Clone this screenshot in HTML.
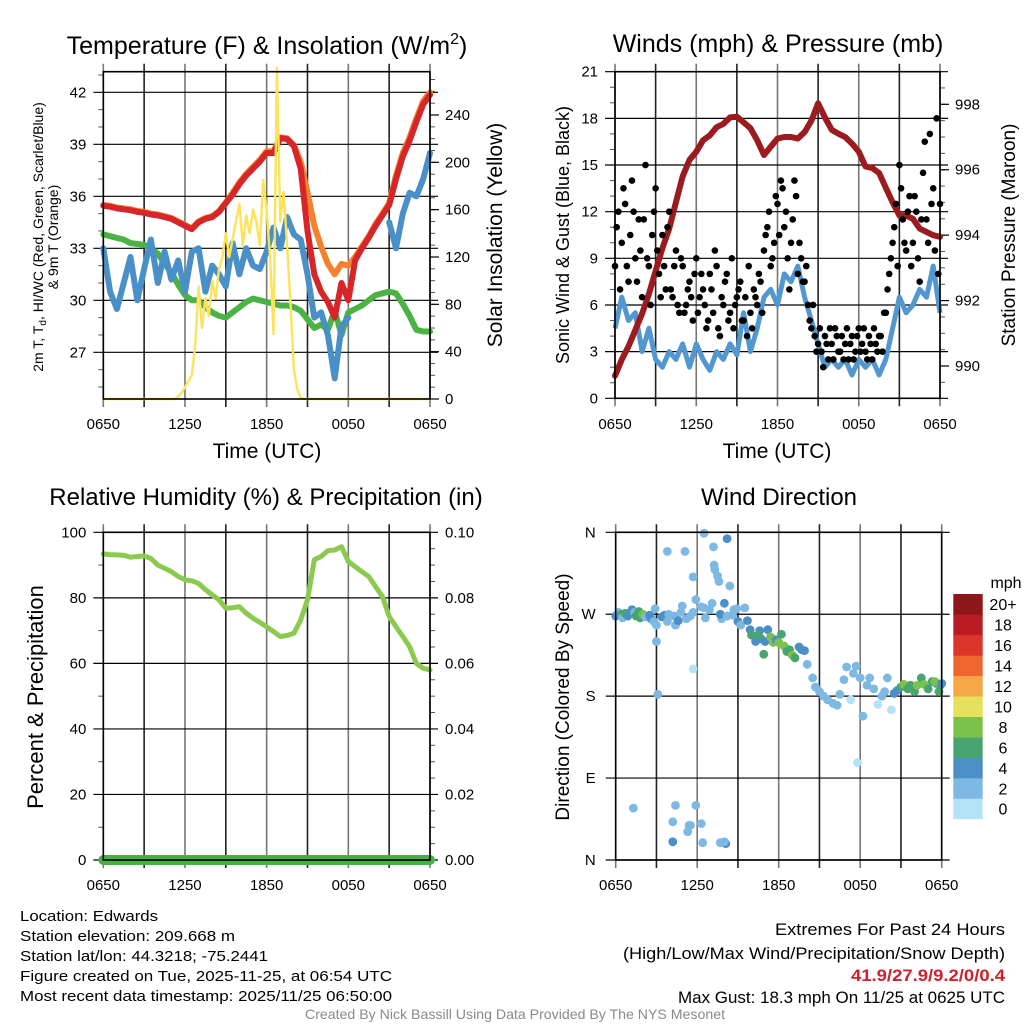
<!DOCTYPE html>
<html><head><meta charset="utf-8"><title>Station Meteogram - Edwards</title>
<style>
html,body{margin:0;padding:0;background:#fff;}
svg{display:block;font-family:"Liberation Sans",Arial,sans-serif;}
</style></head>
<body>
<svg id="fig" xmlns="http://www.w3.org/2000/svg" width="1024" height="1024" viewBox="0 0 1024 1024">
<rect x="0" y="0" width="1024" height="1024" fill="#fff"/>
<!-- titles -->
<text x="267" y="54" font-size="25" text-anchor="middle">Temperature (F) &amp; Insolation (W/m<tspan font-size="16" dy="-10">2</tspan><tspan dy="10">)</tspan></text>
<text x="778" y="52" font-size="25" text-anchor="middle">Winds (mph) &amp; Pressure (mb)</text>
<text x="266" y="505" font-size="24" text-anchor="middle">Relative Humidity (%) &amp; Precipitation (in)</text>
<text x="779" y="505" font-size="24" text-anchor="middle">Wind Direction</text>
<!-- axis titles -->
<text transform="translate(43,237) rotate(-90)" font-size="14" text-anchor="middle">2m T, T<tspan font-size="10" dy="3">d</tspan><tspan dy="-3">, HI/WC (Red, Green, Scarlet/Blue)</tspan></text>
<text transform="translate(58,237) rotate(-90)" font-size="14" text-anchor="middle">&amp; 9m T (Orange)</text>
<text transform="translate(502,235) rotate(-90)" font-size="21" text-anchor="middle">Solar Insolation (Yellow)</text>
<text x="267" y="458" font-size="21" text-anchor="middle">Time (UTC)</text>
<text transform="translate(569,235) rotate(-90)" font-size="18" text-anchor="middle">Sonic Wind &amp; Gust (Blue, Black)</text>
<text transform="translate(1015,235) rotate(-90)" font-size="19" text-anchor="middle">Station Pressure (Maroon)</text>
<text x="777" y="458" font-size="21" text-anchor="middle">Time (UTC)</text>
<text transform="translate(43,697) rotate(-90)" font-size="22" text-anchor="middle">Percent &amp; Precipitation</text>
<text transform="translate(569,697) rotate(-90)" font-size="19" text-anchor="middle">Direction (Colored By Speed)</text>
<!-- info text -->
<g font-size="15" fill="#000">
<text x="20" y="921" textLength="138" lengthAdjust="spacingAndGlyphs">Location: Edwards</text>
<text x="20" y="941" textLength="215" lengthAdjust="spacingAndGlyphs">Station elevation: 209.668 m</text>
<text x="20" y="961" textLength="248" lengthAdjust="spacingAndGlyphs">Station lat/lon: 44.3218; -75.2441</text>
<text x="20" y="981" textLength="372" lengthAdjust="spacingAndGlyphs">Figure created on Tue, 2025-11-25, at 06:54 UTC</text>
<text x="20" y="1001" textLength="372" lengthAdjust="spacingAndGlyphs">Most recent data timestamp: 2025/11/25 06:50:00</text>
</g>
<g font-size="17" text-anchor="end">
<text x="1005" y="935" textLength="230" lengthAdjust="spacingAndGlyphs">Extremes For Past 24 Hours</text>
<text x="1005" y="959" textLength="382" lengthAdjust="spacingAndGlyphs">(High/Low/Max Wind/Precipitation/Snow Depth)</text>
<text x="1005" y="981" fill="#d0202a" font-weight="bold" textLength="154" lengthAdjust="spacingAndGlyphs">41.9/27.9/9.2/0/0.4</text>
<text x="1005" y="1003" textLength="327" lengthAdjust="spacingAndGlyphs">Max Gust: 18.3 mph On 11/25 at 0625 UTC</text>
</g>
<text x="515" y="1019" font-size="14" fill="#8a8a8a" text-anchor="middle" textLength="420" lengthAdjust="spacingAndGlyphs">Created By Nick Bassill Using Data Provided By The NYS Mesonet</text>
</svg>
<script>
// ---- data (half-hourly unless noted, hours since 0650 UTC) ----
const xTickLabels = ["0650","1250","1850","0050","0650"];
const tempRed = [35.45,35.4,35.3,35.25,35.2,35.1,35.05,34.95,34.9,34.8,34.7,34.5,34.3,34.1,34.5,34.7,34.8,35.1,35.6,36.1,36.7,37.2,37.6,38.0,38.5,38.5,39.35,39.3,38.9,37.6,34.0,31.5,30.5,29.9,29.0,31.0,30.0,32.3,33.0,33.6,34.3,34.9,35.5,37.0,38.3,39.2,40.3,41.3,41.85];
const tempOrange = [35.5,35.45,35.35,35.3,35.25,35.15,35.1,35.0,34.95,34.85,34.75,34.55,34.35,34.15,34.55,34.75,34.85,35.15,35.65,36.2,36.8,37.3,37.7,38.1,38.6,38.6,39.4,39.35,38.95,38.0,36.2,34.3,33.1,32.1,31.5,32.1,32.0,32.5,33.1,33.7,34.4,35.0,35.6,37.2,38.5,39.4,40.5,41.5,42.0];
const dewGreen = [33.8,33.7,33.6,33.5,33.3,33.25,33.2,33.0,32.7,32.1,31.6,30.9,30.3,30.0,30.0,29.6,29.3,29.1,29.0,29.3,29.6,29.9,30.1,30.0,29.9,29.8,29.7,29.7,29.6,29.4,28.9,28.4,28.6,28.3,29.4,28.0,29.3,29.5,29.7,30.0,30.3,30.4,30.5,30.4,29.8,29.1,28.3,28.2,28.2];
const windChillBlue = [33.0,30.5,29.5,31.0,32.5,30.0,31.8,33.5,31.0,32.8,31.2,32.3,30.5,32.8,33.0,30.5,32.0,31.5,30.8,33.3,31.5,33.0,32.0,31.8,32.8,34.2,33.0,34.8,33.8,33.5,31.5,29.0,29.3,28.0,25.5,28.5,29.0,null,null,null,null,null,34.5,33.0,35.0,36.2,36.0,37.0,38.5];
// quarter-hourly insolation
const insolation = [0,0,0,0,0,0,0,0,0,0,0,0,0,0,0,0,0,0,0,0,0,0,2,5,10,15,20,45,95,60,85,70,100,85,110,120,140,120,135,150,165,130,155,140,160,150,130,185,160,120,55,280,150,175,130,80,25,8,1,0,0,0,0,0,0,0,0,0,0,0,0,0,0,0,0,0,0,0,0,0,0,0,0,0,0,0,0,0,0,0,0,0,0,0,0,0,0];
const tempTicks = [27,30,33,36,39,42];
const insolTicks = [0,40,80,120,160,200,240];

const pressure = [989.7,990.2,990.6,991.1,991.6,992.2,992.9,993.6,994.2,995.0,995.8,996.3,996.55,996.9,997.05,997.3,997.4,997.6,997.62,997.45,997.27,996.9,996.45,996.7,996.95,997.0,997.0,996.95,997.15,997.5,998.03,997.6,997.22,997.1,997.0,996.8,996.55,996.1,996.05,995.9,995.45,995.0,994.6,994.6,994.5,994.2,994.1,994.0,993.95];
const sonicWind = [4.5,6.5,5.0,5.5,3.0,4.5,2.5,2.0,3.0,2.5,3.5,2.0,3.5,2.5,1.8,3.0,2.5,3.5,2.8,5.5,3.0,4.5,6.5,7.0,6.0,8.0,7.5,8.5,6.5,5.0,3.5,2.0,2.5,2.0,2.5,1.5,2.5,2.0,2.5,1.5,2.5,4.5,6.5,5.5,6.0,7.0,6.5,8.5,5.5];
// quarter-hourly gusts (t = k*0.25)
const gustA = [8.5,12.0,10.0,12.5,7.5,14.0,9.0,11.5,6.5,15.0,8.5,10.5,13.5,8.0,10.5,7.0,12.0,6.5,9.5,5.5,8.5,6.0,7.5,5.0,9.0,6.5,7.0,4.5,8.0,5.5,8.5,4.0,6.0,8.0,5.5,4.5,6.5,7.5,5.0,4.0,5.5,7.0,6.0,7.5,9.5,11.0,8.5,10.0,12.5,14.0,11.0,9.0,10.0,14.0,8.0,9.0,7.5,6.0,4.5,4.0,3.5,3.0,4.0,2.5,3.5,4.5,3.0,4.0,3.5,2.5,4.0,3.0,4.5,3.5,3.0,4.0,2.5,3.5,4.0,3.0,5.5,8.0,10.0,12.5,15.0,11.5,9.5,13.0,10.0,12.0,7.5,14.5,11.5,17.0,13.5,18.0,12.5];
// quarter-hourly gusts offset (t = 0.125 + k*0.25)
const gustB = [11.0,7.0,13.5,8.5,10.5,12.0,7.5,9.5,11.5,9.0,6.0,12.0,9.5,6.5,8.5,11.0,7.0,8.5,6.0,9.0,5.5,7.0,6.5,8.0,5.5,8.0,6.0,5.0,7.0,9.5,4.5,6.5,7.5,5.0,9.0,6.0,7.0,5.0,6.5,8.5,4.5,6.5,8.0,5.5,10.5,12.0,9.0,13.0,10.5,13.5,12.0,7.0,11.5,13.0,10.0,7.5,8.5,5.0,6.0,3.0,4.5,2.0,3.5,4.5,2.5,4.0,3.0,2.5,4.5,3.5,2.5,4.0,3.0,4.5,2.5,3.5,4.5,3.0,4.0,5.5,7.0,9.0,11.0,8.5,13.5,10.0,12.0,8.5,13.0,9.0,11.5,16.5,10.0,12.5,9.5,8.0];
const windTicks = [0,3,6,9,12,15,18,21];
const pressTicks = [990,992,994,996,998];

const relHumidity = [93.4,93.2,93.1,93.0,92.4,92.6,92.8,92.0,90.0,89.0,88.0,86.5,85.5,85.2,84.4,82.5,80.9,79.4,76.8,77.0,77.3,75.3,73.8,72.5,71.2,69.7,68.2,68.5,69.2,73.2,79.4,91.6,92.6,94.4,94.6,95.6,91.1,89.5,88.0,86.5,83.4,80.4,74.3,71.2,68.2,65.1,60.0,58.5,58.0];
const precip = [0,0,0,0,0,0,0,0,0,0,0,0,0,0,0,0,0,0,0,0,0,0,0,0,0,0,0,0,0,0,0,0,0,0,0,0,0,0,0,0,0,0,0,0,0,0,0,0,0];
const rhTicks = [0,20,40,60,80,100];
const precipTicks = ["0.00","0.02","0.04","0.06","0.08","0.10"];

// wind direction obs
const dirTimes = [0.0,0.2,0.4,0.5,0.7,0.9,1.2,1.4,1.5,1.7,1.8,2.0,2.2,2.5,2.6,2.8,3.0,3.0,3.1,2.9,3.4,3.6,3.8,3.9,4.3,4.4,4.6,4.8,4.9,3.8,5.1,5.2,5.5,5.7,5.7,5.7,5.9,6.3,6.5,6.6,6.9,6.5,7.1,7.2,7.25,7.3,7.5,7.6,7.8,7.7,8.0,8.2,8.4,8.2,8.6,8.7,8.9,9.0,9.2,9.5,9.7,9.9,10.0,10.3,10.6,10.7,10.5,10.9,11.0,11.2,11.4,11.6,11.8,12.0,12.2,12.4,12.6,12.8,13.0,13.2,13.5,13.7,13.9,14.1,14.5,14.7,15.0,15.3,15.6,16.0,16.3,16.5,16.8,17.0,17.3,17.5,17.7,18.0,18.2,18.5,18.7,19.0,19.3,19.6,19.8,20.0,20.3,20.5,20.7,21.0,21.2,21.5,21.7,22.0,22.2,22.5,22.7,23.0,23.3,23.6,23.9,23.5,23.8,24.0,1.3,4.4,5.9,4.2,5.5,4.2,5.3,5.4,6.3,6.4,8.1,8.0,7.7,17.8];
const dirDegrees = [268,272,270,266,271,268,275,272,268,273,266,270,267,269,265,262,258,240,182,276,267,269,262,270,268,258,263,272,279,339,339,265,268,311,210,272,286,278,277,266,275,359,282,344,324,319,312,306,265,270,282,268,301,353,269,275,276,262,258,277,263,253,247,240,252,243,247,226,240,253,245,239,242,239,248,235,229,231,225,222,234,231,230,215,200,190,185,180,176,172,170,182,198,212,176,205,213,200,158,192,200,188,171,180,185,200,165,183,186,190,193,188,192,185,192,200,193,188,196,194,192,196,185,194,57,60,60,42,38,20,31,38,40,19,18,20,19,107];
const dirSpeeds = [4,3,7,3,6,5,4,3,7,6,6,8,3,4,5,3,2,2,2,2,4,4,3,2,3,2,4,2,2,2,2,2,2,2,0,3,2,2,2,2,2,2,2,2,2,2,2,2,2,4,4,2,2,4,3,2,2,4,3,3,4,4,6,4,4,5,6,6,4,5,8,8,5,8,6,8,7,6,8,6,4,4,4,2,2,2,2,2,2,2,2,2,2,2,0,2,2,2,2,2,2,2,0,2,2,2,0,4,4,6,8,6,6,6,8,6,8,6,6,4,6,8,6,4,2,2,2,2,2,4,2,2,2,2,4,2,2,0];
const speedColors = ["#b4e2f7","#7db9e3","#4a8fc6","#48a56f","#7bc24b","#e6e15c","#f6a846","#ef6631","#dc3529","#ba1c24","#8e1619"];
const speedLabels = ["0","2","4","6","8","10","12","14","16","18","20+"];
const dirLabels = ["N","E","S","W","N"];
const dirTicks = [0,90,180,270,360];

// ---- drawing ----
const NS = "http://www.w3.org/2000/svg";
const svg = document.getElementById("fig");
function mk(tag, parent){ const e = document.createElementNS(NS, tag); parent.appendChild(e); return e; }
function attrs(e, o){ for (const k in o) e.setAttribute(k, o[k]); return e; }
function linePath(vals, step, xf, yf){
  let d = "", pen = false;
  vals.forEach((v, i) => {
    if (v === null) { pen = false; return; }
    d += (pen ? "L" : "M") + xf(i*step).toFixed(1) + " " + yf(v).toFixed(1);
    pen = true;
  });
  return d;
}
function mkScale(d0, d1, r0, r1){ return v => r0 + (v - d0) * (r1 - r0) / (d1 - d0); }

function panelFrame(P, name){
  const g = mk("g", svg);
  
  
  for (let h = 0; h <= 24; h += 3) {
    const x = P.x(h);
    const l = mk("line", g);
    
    
    attrs(l, {x1:x, x2:x, y1:P.T-8, y2:P.B+8, stroke:(h%6===3 ? "#222" : "#777"), "stroke-width":1.6});
  }
  return g;
}
function hGrid(P, g, ys){
  ys.forEach(y => {
    const l = mk("line", g);
    
    
    attrs(l, {x1:P.L-10, x2:P.R+8, y1:y, y2:y, stroke:"#000", "stroke-width":1.2});
  });
}
function minorTicks(P, g, ys, side){
  ys.forEach(y => {
    const l = mk("line", g);
    
    
    const x0 = side === "left" ? P.L - 5 : P.R;
    attrs(l, {x1:x0, x2:x0+5, y1:y, y2:y, stroke:"#555", "stroke-width":1});
  });
}
function border(P, name){
  const r = mk("rect", svg);
  
  
  attrs(r, {x:P.L, y:P.T, width:P.R-P.L, height:P.B-P.T, fill:"none", stroke:"#000", "stroke-width":1.6});
}
function tickLabel(x, y, txt, anchor, name){
  const t = mk("text", svg);
  
  
  attrs(t, {x:x, y:y, "font-size":15, "text-anchor":anchor});
  t.textContent = txt;
}
function xLabels(P, y){
  xTickLabels.forEach((s, i) => tickLabel(P.x(i*6), y, s, "middle", "x-tick-label"));
}
function mkPanel(L,R,T,B){ return {L,R,T,B,x:mkScale(0,24,L,R)}; }

// ===== Panel 1 =====
const P1 = mkPanel(103.3, 430, 71.7, 399);
const yT = mkScale(27, 42, 352.3, 92.3);
const yI = mkScale(0, 240, 399, 115);
const g1 = panelFrame(P1, "temperature");
hGrid(P1, g1, tempTicks.map(yT));
const minT = []; for (let v = 25; v <= 43; v++) if (!tempTicks.includes(v)) minT.push(yT(v));
minorTicks(P1, g1, minT, "left");
const minI = []; for (let v = 0; v <= 270; v += 10) minI.push(yI(v));
minorTicks(P1, g1, minI, "right");
insolTicks.forEach(v => { const l = mk("line", g1);
  
  
  attrs(l, {x1:P1.R, x2:P1.R+9, y1:yI(v), y2:yI(v), stroke:"#000", "stroke-width":1.2}); });
const s1 = mk("g", svg);


const pGreen = mk("path", s1);


attrs(pGreen, {d:linePath(dewGreen, 0.5, P1.x, yT), stroke:"#4bb244", "stroke-width":6, fill:"none", "stroke-linejoin":"round", "stroke-linecap":"round"});
const pBlue = mk("path", s1);


attrs(pBlue, {d:linePath(windChillBlue, 0.5, P1.x, yT), stroke:"#4a90c8", "stroke-width":6, fill:"none", "stroke-linejoin":"round", "stroke-linecap":"round"});
const pOr = mk("path", s1);


attrs(pOr, {d:linePath(tempOrange, 0.5, P1.x, yT), stroke:"#f4812c", "stroke-width":6, fill:"none", "stroke-linejoin":"round", "stroke-linecap":"round"});
const pRed = mk("path", s1);


attrs(pRed, {d:linePath(tempRed, 0.5, P1.x, yT), stroke:"#d7262a", "stroke-width":6, fill:"none", "stroke-linejoin":"round", "stroke-linecap":"round"});
const pYel = mk("path", s1);


attrs(pYel, {d:linePath(insolation, 0.25, P1.x, yI), stroke:"#fde35a", "stroke-width":2.4, fill:"none", "stroke-linejoin":"round"});
border(P1, "temperature");
tempTicks.forEach(v => tickLabel(P1.L-17, yT(v)+5, String(v), "end", "temperature-tick-label"));
insolTicks.forEach(v => tickLabel(P1.R+15, yI(v)+5, String(v), "start", "insolation-tick-label"));
xLabels(P1, 429);

// ===== Panel 2 =====
const P2 = mkPanel(615, 940, 71.7, 398.3);
const yW = mkScale(0, 21, 398.3, 71.7);
const yP = mkScale(990, 998, 366, 104.3);
const g2 = panelFrame(P2, "winds");
hGrid(P2, g2, windTicks.map(yW));
const minW = []; for (let v = 0; v <= 21; v++) if (v % 3) minW.push(yW(v));
minorTicks(P2, g2, minW, "left");
const minP = []; for (let v = 989.5; v <= 998.5; v += 0.5) minP.push(yP(v));
minorTicks(P2, g2, minP, "right");
pressTicks.forEach(v => { const l = mk("line", g2);
  
  
  attrs(l, {x1:P2.R, x2:P2.R+9, y1:yP(v), y2:yP(v), stroke:"#000", "stroke-width":1.2}); });
const s2 = mk("g", svg);


const pWind = mk("path", s2);


attrs(pWind, {d:linePath(sonicWind, 0.5, P2.x, yW), stroke:"#5297d0", "stroke-width":5, fill:"none", "stroke-linejoin":"round"});
const pPres = mk("path", s2);


attrs(pPres, {d:linePath(pressure, 0.5, P2.x, yP), stroke:"#9b1b1e", "stroke-width":6, fill:"none", "stroke-linejoin":"round", "stroke-linecap":"round"});
gustA.forEach((v, k) => { const c = mk("circle", s2);
  
  
  attrs(c, {cx:P2.x(k*0.25), cy:yW(v), r:3.3, fill:"#000"}); });
gustB.forEach((v, k) => { const c = mk("circle", s2);
  
  
  attrs(c, {cx:P2.x(0.125 + k*0.25), cy:yW(v), r:3.3, fill:"#000"}); });
border(P2, "winds");
windTicks.forEach(v => tickLabel(P2.L-17, yW(v)+5, String(v), "end", "wind-tick-label"));
pressTicks.forEach(v => tickLabel(P2.R+15, yP(v)+5, String(v), "start", "pressure-tick-label"));
xLabels(P2, 429);

// ===== Panel 3 =====
const P3 = mkPanel(103.3, 430, 532.3, 860);
const yR = mkScale(0, 100, 860, 532.3);
const yPr = mkScale(0, 0.1, 860, 532.3);
const g3 = panelFrame(P3, "humidity");
hGrid(P3, g3, rhTicks.map(yR));
const minR = []; for (let v = 10; v <= 90; v += 20) minR.push(yR(v));
minorTicks(P3, g3, minR, "left");
const minPr = []; for (let v = 0; v <= 100; v += 5) if (v % 20) minPr.push(yR(v));
minorTicks(P3, g3, minPr, "right");
const s3 = mk("g", svg);


const pRH = mk("path", s3);


attrs(pRH, {d:linePath(relHumidity, 0.5, P3.x, yR), stroke:"#8cc94f", "stroke-width":5, fill:"none", "stroke-linejoin":"round", "stroke-linecap":"round"});
const pPr = mk("path", s3);


attrs(pPr, {d:linePath(precip, 0.5, P3.x, yPr), stroke:"#46b046", "stroke-width":10, fill:"none", "stroke-linecap":"round"});
border(P3, "humidity");
rhTicks.forEach(v => tickLabel(P3.L-17, yR(v)+5, String(v), "end", "humidity-tick-label"));
precipTicks.forEach((s, i) => tickLabel(P3.R+15, yR(i*20)+5, s, "start", "precip-tick-label"));
xLabels(P3, 890);

// ===== Panel 4 =====
const P4 = mkPanel(615.7, 941.7, 532.3, 860);
const yD = mkScale(0, 360, 860, 532.3);
const g4 = panelFrame(P4, "wind-direction");
hGrid(P4, g4, dirTicks.map(yD));
const s4 = mk("g", svg);


dirTimes.forEach((t, i) => { const c = mk("circle", s4);
  
  
  const ci = Math.min(10, Math.floor(dirSpeeds[i] / 2));
  attrs(c, {cx:P4.x(t), cy:yD(dirDegrees[i]), r:4.4, fill:speedColors[ci]}); });
border(P4, "wind-direction");
dirTicks.forEach((v, i) => tickLabel(P4.L-20, yD(v)+5, dirLabels[i], "end", "direction-tick-label"));
xLabels(P4, 890);

// colorbar
const cb = mk("g", svg);


const cbTop = 594, cbH = 20.45;
speedColors.forEach((col, i) => {
  const r = mk("rect", cb);
  
  
  const y = cbTop + (10 - i) * cbH;
  attrs(r, {x:953.3, y:y, width:29.4, height:cbH+0.3, fill:col});
  const t = mk("text", cb);
  
  
  attrs(t, {x:1003, y:y+cbH/2+6, "font-size":16, "text-anchor":"middle"});
  t.textContent = speedLabels[i];
});
const cbT = mk("text", cb);


attrs(cbT, {x:1006, y:588, "font-size":16, "text-anchor":"middle"});
cbT.textContent = "mph";
</script>
</body></html>
